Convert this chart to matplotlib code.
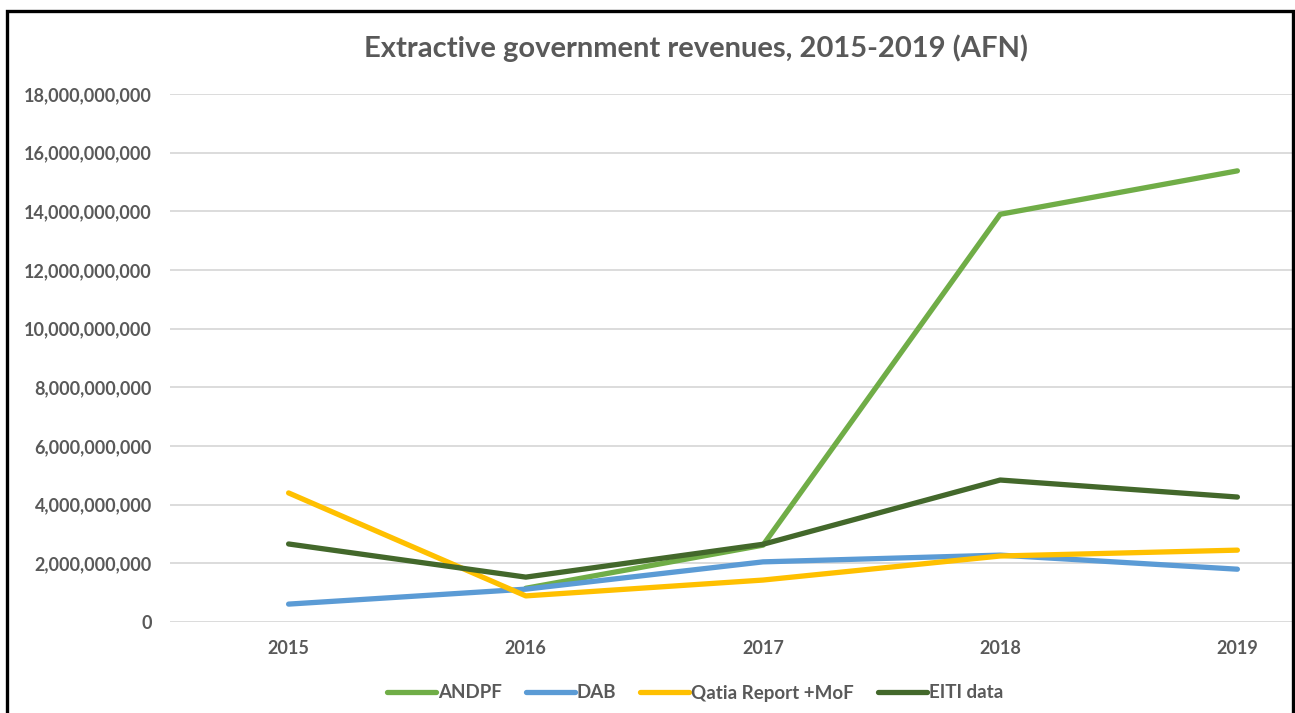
import matplotlib
matplotlib.use("Agg")
import matplotlib.pyplot as plt
from matplotlib.ticker import FuncFormatter, MultipleLocator
from matplotlib.patches import Rectangle

years = ["2015", "2016", "2017", "2018", "2019"]
andpf = [None, 1.15e9, 2.62e9, 13.9e9, 15.38e9]
dab = [0.61e9, 1.12e9, 2.05e9, 2.28e9, 1.80e9]
qatia = [4.40e9, 0.89e9, 1.43e9, 2.25e9, 2.45e9]
eiti = [2.66e9, 1.53e9, 2.65e9, 4.84e9, 4.26e9]

series_names = ["ANDPF", "DAB", "Qatia Report +MoF", "EITI data"]
series_colors = ["#70AD47", "#5B9BD5", "#FFC000", "#43682B"]

plt.rcParams["font.family"] = ["Lato", "DejaVu Sans"]
text_gray = "#595959"

W, H = 1295, 713
fig = plt.figure(figsize=(W / 100, H / 100), dpi=100)
fig.patch.set_facecolor("white")

# plot area runs past the right edge of the canvas
left_px, right_px, top_px, bottom_px = 170, 1356, 94, 622
ax = fig.add_axes([left_px / W, (H - bottom_px) / H,
                   (right_px - left_px) / W, (bottom_px - top_px) / H])

x = list(range(len(years)))
for vals, name, col in zip([andpf, dab, qatia, eiti], series_names, series_colors):
    xs = [xi for xi, v in zip(x, vals) if v is not None]
    ys = [v for v in vals if v is not None]
    ax.plot(xs, ys, color=col, lw=3.8, solid_capstyle="round",
            solid_joinstyle="round", label=name, clip_on=False)

ax.set_xlim(-0.5, len(years) - 0.5)
ax.set_ylim(0, 18e9)
ax.yaxis.set_major_locator(MultipleLocator(2e9))
ax.yaxis.set_major_formatter(FuncFormatter(lambda v, p: f"{v:,.0f}"))
ax.set_xticks(x)
ax.set_xticklabels(years)
ax.grid(axis="y", color="#D9D9D9", lw=1.3)
ax.set_axisbelow(True)
for s in ax.spines.values():
    s.set_visible(False)
ax.tick_params(length=0, labelsize=13, colors=text_gray)
ax.tick_params(axis="y", pad=13)
ax.tick_params(axis="x", pad=13)
for lab in ax.get_xticklabels() + ax.get_yticklabels():
    lab.set_fontweight("bold")

fig.text(696 / W, 1 - 48 / H, "Extractive government revenues, 2015-2019 (AFN)",
         ha="center", va="center", fontsize=21, fontweight="bold", color=text_gray)

leg = fig.legend(loc="center", bbox_to_anchor=(695 / W, 1 - 693 / H), ncol=4,
                 frameon=False, handlelength=2.6, handletextpad=0.1,
                 columnspacing=1.3, prop={"weight": "bold", "size": 13.5})
for t in leg.get_texts():
    t.set_color(text_gray)

# chart border
fig.add_artist(Rectangle((7 / W, -0.05), (1293 - 7) / W, 1.05 - 11 / H,
                         transform=fig.transFigure, fill=False,
                         edgecolor="black", lw=2.4, clip_on=False))

fig.savefig("out.png", dpi=100, facecolor="white")
